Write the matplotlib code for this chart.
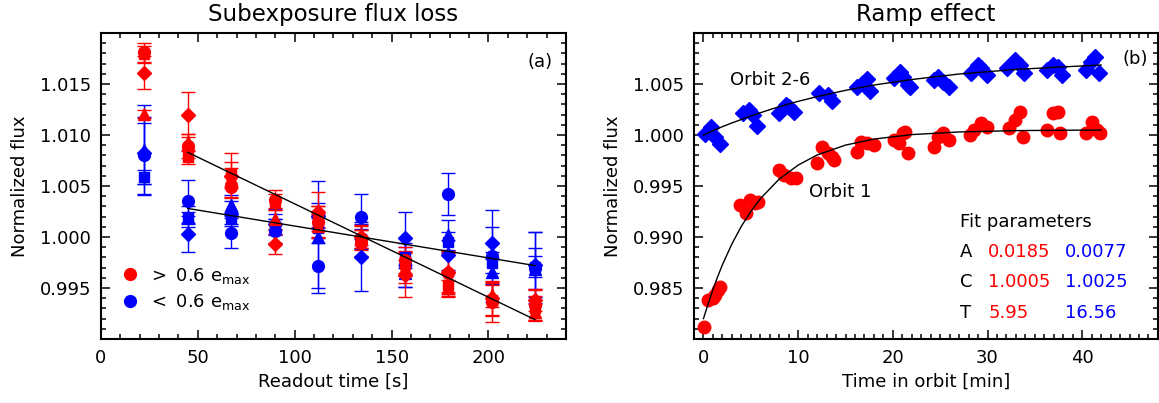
import matplotlib
matplotlib.use("Agg")
import matplotlib.pyplot as plt
from matplotlib.lines import Line2D
from matplotlib.ticker import MultipleLocator, FuncFormatter

RED = "#FF0000"
BLUE = "#0000FF"

# ---- panel (a): subexposure flux loss ----
readout_time = [22.4, 44.8, 67.2, 89.6, 112.0, 134.4, 156.8, 179.2, 201.6, 224.0]

hi_circle = [1.0181, 1.0089, 1.0049, 1.0036, 1.0015, 0.9994, 0.99775, 0.99644, 0.99366, 0.99333]
hi_circle_err = [0.0009, 0.0012, 0.0010, 0.0010, 0.0015, 0.0013, 0.0013, 0.0020, 0.0020, 0.0015]
hi_square = [1.0179, 1.0078, 1.0062, 1.0034, 1.0020, 0.9997, 0.9974, 0.9953, 0.9938, 0.9930]
hi_square_err = [0.0008, 0.0006, 0.0012, 0.0008, 0.0010, 0.0010, 0.0012, 0.0012, 0.0015, 0.0012]
hi_triangle = [1.0121, 1.0093, 1.0058, 1.0018, 1.0011, 1.0002, 0.9970, 0.99497, 0.99431, 0.99268]
hi_triangle_err = [0.0004, 0.0008, 0.0010, 0.0010, 0.0012, 0.0010, 0.0015, 0.0008, 0.0012, 0.0008]
hi_diamond = [1.0161, 1.0120, 1.0060, 0.9993, 1.0025, 1.0000, 0.99627, 0.9966, 0.9940, 0.99382]
hi_diamond_err = [0.0016, 0.0022, 0.0022, 0.0010, 0.0019, 0.0011, 0.0022, 0.0020, 0.0016, 0.0011]

lo_circle = [1.0080, 1.0035, 1.0004, 1.0006, 0.9972, 1.0020, 0.99726, 1.00422, 0.99814, 0.9970]
lo_circle_err = [0.0038, 0.0021, 0.0015, 0.0012, 0.0022, 0.0022, 0.0022, 0.0021, 0.0045, 0.0035]
lo_square = [1.0059, 1.0019, 1.0019, 1.0010, 1.0009, 0.9998, 0.9980, 0.9995, 0.9975, 0.9971]
lo_square_err = [0.0007, 0.0006, 0.0006, 0.0008, 0.0010, 0.0010, 0.0010, 0.0010, 0.0010, 0.0010]
lo_triangle = [1.0085, 1.0020, 1.0031, 1.0017, 1.0000, 1.0001, 0.99644, 1.0002, 0.9966, 0.9969]
lo_triangle_err = [0.0044, 0.0010, 0.0010, 0.0010, 0.0055, 0.0012, 0.0013, 0.0015, 0.0012, 0.0020]
lo_diamond = [1.0082, 1.0003, 1.0023, 1.0013, 1.0021, 0.99807, 0.99987, 0.99824, 0.99944, 0.9973]
lo_diamond_err = [0.0030, 0.0018, 0.0012, 0.0010, 0.0012, 0.0034, 0.0026, 0.0015, 0.0015, 0.0032]

fit_time = [44.8, 224.0]
hi_fit = [1.0083, 0.9919]
lo_fit = [1.0028, 0.9972]

# ---- panel (b): ramp effect ----
orbit1_t = [0.07, 0.49, 1.0, 1.19, 1.54, 1.71, 3.9, 4.5, 4.9, 5.4, 5.8,
            8.0, 8.5, 9.2, 9.8, 12.0, 12.5, 13.1, 13.6, 13.8,
            16.2, 16.6, 17.3, 18.0, 20.1, 20.6, 21.1, 21.3, 21.6,
            24.3, 24.8, 25.3, 25.9, 28.1, 28.6, 29.3, 29.9,
            32.3, 32.9, 33.4, 33.7, 36.3, 36.9, 37.4, 37.7,
            40.4, 41.0, 41.6, 41.9]
orbit1_flux = [0.98121, 0.98382, 0.98399, 0.98431, 0.98480, 0.98507, 0.99314, 0.99232, 0.99363, 0.99330, 0.99346,
               0.99657, 0.99608, 0.99575, 0.99575, 0.99722, 0.99886, 0.99820, 0.99788, 0.99755,
               0.99837, 0.99935, 0.99918, 0.99902, 0.99951, 0.99918, 1.00017, 1.00033, 0.99820,
               0.99886, 0.99984, 1.00017, 0.99951, 1.00000, 1.00049, 1.00115, 1.00082,
               1.00066, 1.00147, 1.00228, 0.99984, 1.00049, 1.00213, 1.00228, 1.00017,
               1.00017, 1.00131, 1.00049, 1.00017]

orbit26_t = [0.14, 0.84, 1.19, 1.71, 4.16, 4.86, 5.2, 5.7,
             8.0, 8.7, 9.05, 9.6, 12.2, 13.1, 13.6,
             16.2, 16.8, 17.3, 17.6, 20.1, 20.8, 21.1, 21.6, 21.8,
             24.3, 24.8, 25.3, 25.9, 28.3, 29.0, 29.3, 29.9,
             32.1, 32.9, 33.4, 33.9, 36.3, 36.9, 37.4, 37.9,
             40.4, 40.9, 41.4, 41.8]
orbit26_flux = [1.00010, 1.00082, 0.99984, 0.99912, 1.00213, 1.00245, 1.00196, 1.00088,
                1.00213, 1.00294, 1.00278, 1.00228, 1.00409, 1.00392, 1.00336,
                1.00474, 1.00507, 1.00546, 1.00435, 1.00556, 1.00621, 1.00572, 1.00490, 1.00474,
                1.00539, 1.00572, 1.00523, 1.00468, 1.00605, 1.00686, 1.00654, 1.00588,
                1.00654, 1.00735, 1.00686, 1.00605, 1.00637, 1.00686, 1.00670, 1.00588,
                1.00637, 1.00719, 1.00768, 1.00605]

# fitted ramp curves
curve_t = [0, 0.5, 1, 1.5, 2, 3, 4, 5, 6, 8, 10, 12, 15, 18, 22, 27, 33, 38, 42]
orbit1_curve = [0.98200, 0.98346, 0.98486, 0.98611, 0.98728, 0.98932, 0.99105, 0.99251, 0.99375,
                0.99568, 0.99705, 0.99804, 0.99901, 0.99960, 1.00004, 1.00030, 1.00043, 1.00047,
                1.00048]
orbit26_curve = [1.00000, 1.00021, 1.00042, 1.00062, 1.00082, 1.00118, 1.00152, 1.00186, 1.00218,
                 1.00278, 1.00330, 1.00376, 1.00438, 1.00490, 1.00544, 1.00598, 1.00643, 1.00668,
                 1.00686]

param_names = ["A", "C", "T"]
orbit1_params = ["0.0185", "1.0005", "5.95"]
orbit26_params = ["0.0077", "1.0025", "16.56"]

FS = 13


def style_axes(ax, xmajor, xminor, ymajor, yminor):
    ax.xaxis.set_major_locator(MultipleLocator(xmajor))
    ax.xaxis.set_minor_locator(MultipleLocator(xminor))
    ax.yaxis.set_major_locator(MultipleLocator(ymajor))
    ax.yaxis.set_minor_locator(MultipleLocator(yminor))
    ax.tick_params(which="both", direction="in", top=True, right=True, labelsize=FS, width=1.1)
    ax.tick_params(which="major", length=6.5, pad=7)
    ax.tick_params(which="minor", length=3.5)
    for sp in ax.spines.values():
        sp.set_linewidth(1.5)
    lo, hi = ax.get_ylim()
    ax.yaxis.set_major_formatter(FuncFormatter(
        lambda v, pos: "" if abs(v - lo) < 1e-9 or abs(v - hi) < 1e-9 else f"{v:.3f}"))


fig = plt.figure(figsize=(11.59, 4.03), dpi=100)
ax1 = fig.add_axes([0.0871, 0.1588, 0.4012, 0.7593])
ax2 = fig.add_axes([0.5988, 0.1588, 0.4003, 0.7593])

groups = [
    (lo_circle, lo_circle_err, "o", BLUE),
    (lo_square, lo_square_err, "s", BLUE),
    (lo_triangle, lo_triangle_err, "^", BLUE),
    (lo_diamond, lo_diamond_err, "D", BLUE),
    (hi_circle, hi_circle_err, "o", RED),
    (hi_square, hi_square_err, "s", RED),
    (hi_triangle, hi_triangle_err, "^", RED),
    (hi_diamond, hi_diamond_err, "D", RED),
]
for vals, errs, marker, color in groups:
    ms = 7.5 if marker in ("s", "D") else 8.5
    ax1.errorbar(readout_time, vals, yerr=errs, marker=marker, color=color, mec=color,
                 linestyle="none", markersize=ms, elinewidth=1.0, capsize=5, capthick=1.0)

ax1.plot(fit_time, hi_fit, color="black", lw=1.0, zorder=5)
ax1.plot(fit_time, lo_fit, color="black", lw=1.0, zorder=5)

ax1.set_xlim(0, 240)
ax1.set_ylim(0.990, 1.020)
style_axes(ax1, 50, 10, 0.005, 0.001)
ax1.set_title("Subexposure flux loss", fontsize=16.5, pad=9)
ax1.set_xlabel("Readout time [s]", fontsize=FS, labelpad=4)
ax1.set_ylabel("Normalized flux", fontsize=FS, labelpad=8)
ax1.text(0.944, 0.905, "(a)", transform=ax1.transAxes, fontsize=FS,
         ha="center", va="center")

handles = [
    Line2D([], [], marker="o", color=RED, linestyle="none", markersize=8.5),
    Line2D([], [], marker="o", color=BLUE, linestyle="none", markersize=8.5),
]
ax1.legend(handles, [r"$>$ 0.6 e$_{\rm max}$", r"$<$ 0.6 e$_{\rm max}$"],
           loc="lower left", bbox_to_anchor=(0.005, 0.035), frameon=False,
           fontsize=FS, handletextpad=0.4, labelspacing=0.35, handlelength=1.2)

ax2.plot(orbit26_t, orbit26_flux, linestyle="none", marker="D", color=BLUE, markersize=8)
ax2.plot(orbit1_t, orbit1_flux, linestyle="none", marker="o", color=RED, markersize=9)
ax2.plot(curve_t, orbit1_curve, color="black", lw=1.0, zorder=5)
ax2.plot(curve_t, orbit26_curve, color="black", lw=1.0, zorder=5)

ax2.set_xlim(-1, 48)
ax2.set_ylim(0.980, 1.010)
style_axes(ax2, 10, 1, 0.005, 0.001)
ax2.set_title("Ramp effect", fontsize=16.5, pad=9)
ax2.set_xlabel("Time in orbit [min]", fontsize=FS, labelpad=4)
ax2.set_ylabel("Normalized flux", fontsize=FS, labelpad=8)
ax2.text(0.950, 0.915, "(b)", transform=ax2.transAxes, fontsize=FS,
         ha="center", va="center")
ax2.text(0.164, 0.846, "Orbit 2-6", transform=ax2.transAxes, fontsize=FS,
         ha="center", va="center")
ax2.text(0.315, 0.480, "Orbit 1", transform=ax2.transAxes, fontsize=FS,
         ha="center", va="center")

ax2.text(0.573, 0.382, "Fit parameters", transform=ax2.transAxes, fontsize=FS,
         ha="left", va="center")
row_y = [0.284, 0.186, 0.085]
for name, p1, p2, yy in zip(param_names, orbit1_params, orbit26_params, row_y):
    ax2.text(0.573, yy, name, transform=ax2.transAxes, fontsize=FS, ha="left", va="center")
    ax2.text(0.634, yy, p1, transform=ax2.transAxes, fontsize=FS, ha="left", va="center", color=RED)
    ax2.text(0.800, yy, p2, transform=ax2.transAxes, fontsize=FS, ha="left", va="center", color=BLUE)

fig.savefig("out.png", dpi=100)
